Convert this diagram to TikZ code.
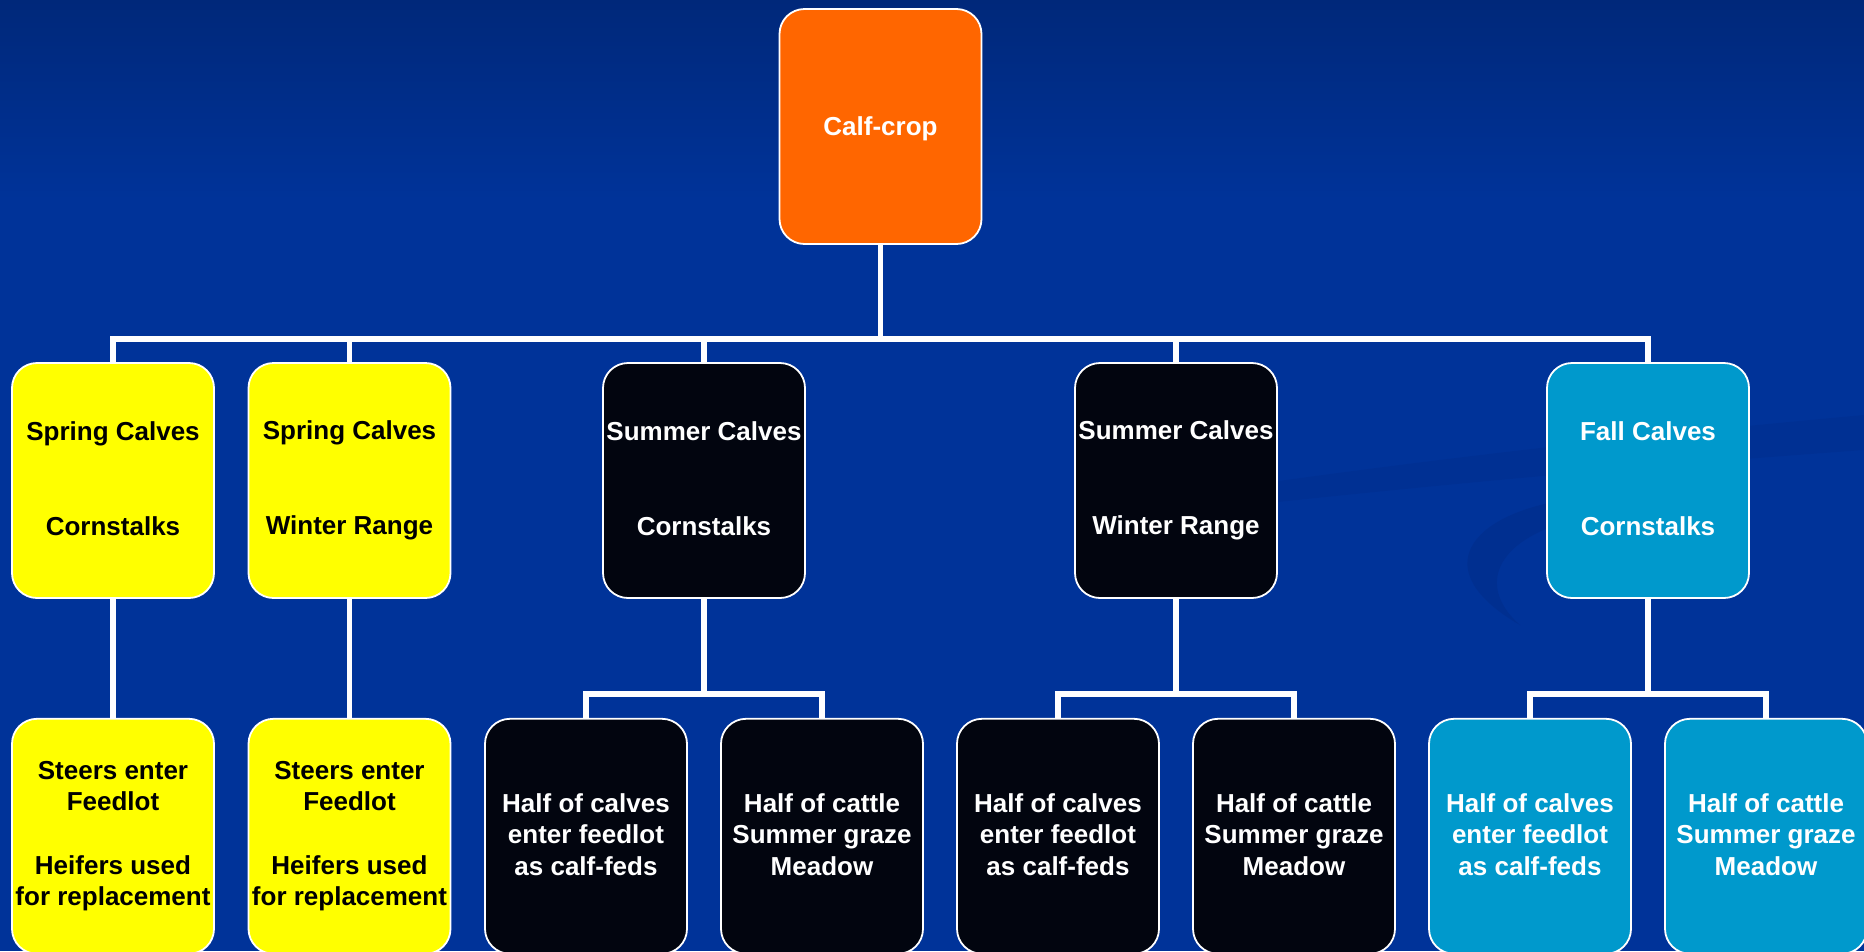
\documentclass[tikz,border=0pt]{standalone}
\usepackage{fontspec}
\setmainfont{Liberation Sans}
\usepackage{xcolor}
\definecolor{bgtop}{RGB}{0, 40, 122}
\definecolor{bgmid}{RGB}{0, 51, 153}
\definecolor{swirl}{RGB}{0, 46, 142}
\definecolor{calforange}{RGB}{255, 102, 0}
\definecolor{springyellow}{RGB}{255, 255, 0}
\definecolor{summerblack}{RGB}{2, 5, 15}
\definecolor{fallcyan}{RGB}{0, 153, 204}
\usetikzlibrary{
    positioning,
    calc
}
\newcommand{\boxstrut}{\rule[-4pt]{0pt}{28pt}}

\begin{document}
\begin{tikzpicture}[
    x=1pt, y=-1pt,
    every text node part/.style={align=center},
    box/.style={draw=white, line width=1.8pt, rounded corners=25pt, minimum width=202pt, minimum height=235pt, inner sep=2pt,
        font=\fontsize{26}{31.5}\selectfont\bfseries, execute at begin node=\boxstrut, execute at end node=\boxstrut},
    rootbox/.style={box, fill=calforange, text=white},
    springbox/.style={box, fill=springyellow, text=black},
    summerbox/.style={box, fill=summerblack, text=white},
    fallbox/.style={box, fill=fallcyan, text=white},
    link/.style={draw=white, line width=5.5pt}
]

% ==================== BACKGROUND ====================
\useasboundingbox (0,0) rectangle (1864,951);
\fill[top color=bgtop, bottom color=bgmid] (0,0) rectangle (1864,200);
\fill[bgmid] (0,199) rectangle (1864,951);
\fill[swirl, opacity=0.5] (1250,485) .. controls (1500,450) and (1700,430) .. (1864,415) -- (1864,450) .. controls (1700,462) and (1500,478) .. (1250,505) -- cycle;
\fill[swirl, opacity=0.8] (1565,500) .. controls (1470,515) and (1425,570) .. (1520,625) .. controls (1480,590) and (1490,545) .. (1565,522) -- cycle;

% ==================== ROOT ====================
\node[rootbox] (calfcrop) at (880.5,126.5) {Calf-crop};

% ==================== WINTERING OPTIONS ====================
\node[springbox] (spring_stalks) at (113,480.5) {Spring Calves\\[63pt]Cornstalks};
\node[springbox] (spring_range) at (349.5,480.5) {Spring Calves\\[63pt]Winter Range};
\node[summerbox] (summer_stalks) at (704,480.5) {Summer Calves\\[63pt]Cornstalks};
\node[summerbox] (summer_range) at (1176,480.5) {Summer Calves\\[63pt]Winter Range};
\node[fallbox] (fall_stalks) at (1648,480.5) {Fall Calves\\[63pt]Cornstalks};

\coordinate (top_bus) at (0,339);
\foreach \kid in {spring_stalks, spring_range, summer_stalks, summer_range, fall_stalks}
    \draw[link] (calfcrop.south) -- (calfcrop.south |- top_bus) -| (\kid.north);

% ==================== OUTCOMES ====================
\node[springbox, below=119pt of spring_stalks] (spring_stalks_out) {Steers enter\\Feedlot\\[32pt]Heifers used\\for replacement};
\node[springbox, below=119pt of spring_range] (spring_range_out) {Steers enter\\Feedlot\\[32pt]Heifers used\\for replacement};
\draw[link] (spring_stalks.south) -- (spring_stalks_out.north);
\draw[link] (spring_range.south) -- (spring_range_out.north);

\node[summerbox, below=119pt of summer_stalks, xshift=-118pt] (summer_stalks_fed) {Half of calves\\enter feedlot\\as calf-feds};
\node[summerbox, below=119pt of summer_stalks, xshift=118pt] (summer_stalks_graze) {Half of cattle\\Summer graze\\Meadow};
\draw[link] (summer_stalks.south) -- ++(0,95) -| (summer_stalks_fed.north);
\draw[link] (summer_stalks.south) -- ++(0,95) -| (summer_stalks_graze.north);

\node[summerbox, below=119pt of summer_range, xshift=-118pt] (summer_range_fed) {Half of calves\\enter feedlot\\as calf-feds};
\node[summerbox, below=119pt of summer_range, xshift=118pt] (summer_range_graze) {Half of cattle\\Summer graze\\Meadow};
\draw[link] (summer_range.south) -- ++(0,95) -| (summer_range_fed.north);
\draw[link] (summer_range.south) -- ++(0,95) -| (summer_range_graze.north);

\node[fallbox, below=119pt of fall_stalks, xshift=-118pt] (fall_stalks_fed) {Half of calves\\enter feedlot\\as calf-feds};
\node[fallbox, below=119pt of fall_stalks, xshift=118pt] (fall_stalks_graze) {Half of cattle\\Summer graze\\Meadow};
\draw[link] (fall_stalks.south) -- ++(0,95) -| (fall_stalks_fed.north);
\draw[link] (fall_stalks.south) -- ++(0,95) -| (fall_stalks_graze.north);

\end{tikzpicture}
\end{document}
